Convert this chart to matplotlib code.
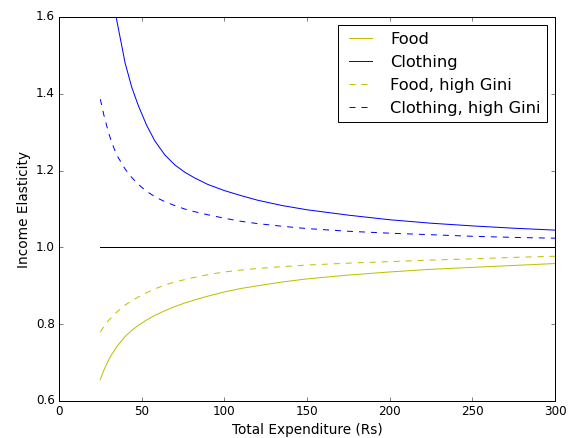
import numpy as np
import matplotlib
matplotlib.use('Agg')
import matplotlib.pyplot as plt

plt.style.use('classic')

# values
expenditure = [25, 27, 30, 32, 35, 40, 44, 48, 53, 58, 64, 70, 76, 82, 90, 100,
               110, 120, 135, 150, 175, 200, 225, 250, 275, 300]
food = [0.656, 0.679, 0.707, 0.722, 0.742, 0.768, 0.784, 0.797, 0.811, 0.823,
        0.835, 0.846, 0.855, 0.863, 0.873, 0.884, 0.893, 0.900, 0.910, 0.918,
        0.928, 0.936, 0.943, 0.948, 0.953, 0.958]
clothing = [1.96, 1.86, 1.735, 1.67, 1.59, 1.480, 1.417, 1.369, 1.318, 1.277,
            1.241, 1.215, 1.196, 1.181, 1.164, 1.148, 1.135, 1.123, 1.109, 1.098,
            1.084, 1.072, 1.063, 1.056, 1.050, 1.045]
food_gini = [0.780, 0.793, 0.810, 0.819, 0.832, 0.850, 0.861, 0.871, 0.882, 0.892,
             0.902, 0.910, 0.916, 0.922, 0.929, 0.936, 0.941, 0.945, 0.950, 0.954,
             0.959, 0.963, 0.967, 0.970, 0.974, 0.977]
clothing_gini = [1.386, 1.347, 1.298, 1.272, 1.240, 1.204, 1.182, 1.164, 1.146, 1.132,
                 1.119, 1.109, 1.100, 1.093, 1.085, 1.076, 1.068, 1.062, 1.055, 1.049,
                 1.042, 1.037, 1.033, 1.029, 1.026, 1.024]
unit = [1.0] * len(expenditure)

fig = plt.figure(figsize=(569 / 72, 438 / 72), dpi=72)
ax = fig.add_axes([59 / 569, 37 / 438, 496 / 569, 384 / 438])

ax.plot(expenditure, food, 'y', label='Food')
ax.plot(expenditure, clothing, 'b', label='Clothing')
ax.plot(expenditure, food_gini, 'y--', label='Food, high Gini')
ax.plot(expenditure, clothing_gini, 'b--', label='Clothing, high Gini')
ax.plot(expenditure, unit, 'k')

ax.set_xlim(0, 300)
ax.set_ylim(0.6, 1.6)
ax.set_xlabel('Total Expenditure (Rs)', fontsize=13.6)
ax.set_ylabel('Income Elasticity', fontsize=13.6)
ax.legend(fontsize=16.2)

fig.savefig('out.png', dpi=72)
